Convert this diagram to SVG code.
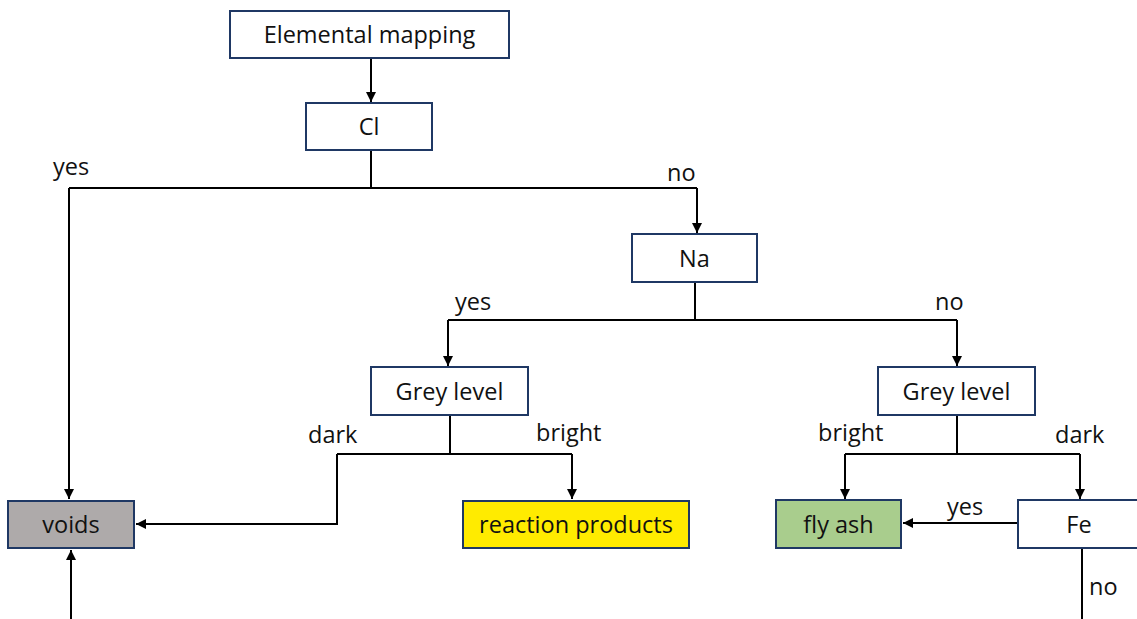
<svg xmlns="http://www.w3.org/2000/svg" width="1137" height="619" viewBox="0 0 1137 619">
  <style>
    .box { stroke: #1f3864; stroke-width: 2; fill: #ffffff; }
    .lbl { font-family: "Open Sans", "Liberation Sans", sans-serif; font-size: 23.5px; fill: #111111; }
    .mid { text-anchor: middle; }
    .wire { stroke: #000000; stroke-width: 2; fill: none; }
    .arr { marker-end: url(#head); }
  </style>
  <defs>
    <marker id="head" viewBox="0 0 10 10" refX="10" refY="5" markerWidth="5" markerHeight="5" orient="auto" markerUnits="strokeWidth">
      <path d="M0,0 L10,5 L0,10 z" fill="#000000"/>
    </marker>
  </defs>
  <rect width="1137" height="619" fill="#ffffff"/>

  <g id="connectors">
    <path class="wire arr" d="M371,58 V102"/>
    <path class="wire" d="M371,150 V188 M69,188 H697"/>
    <path class="wire arr" d="M69,188 V499"/>
    <path class="wire arr" d="M697,188 V233"/>
    <path class="wire" d="M695,282 V320 M448,320 H957"/>
    <path class="wire arr" d="M448,320 V366"/>
    <path class="wire arr" d="M957,320 V366"/>
    <path class="wire" d="M450,415 V454 M337,454 H572"/>
    <path class="wire arr" d="M337,454 V524 H136"/>
    <path class="wire arr" d="M572,454 V499"/>
    <path class="wire" d="M957,415 V454 M845,454 H1080"/>
    <path class="wire arr" d="M845,454 V499"/>
    <path class="wire arr" d="M1080,454 V499"/>
    <path class="wire arr" d="M1018,523 H903"/>
    <path class="wire" d="M1082,548 V619"/>
    <path class="wire arr" d="M71,619 V550"/>
  </g>

  <g id="edge-labels">
    <text class="lbl" x="53" y="175">yes</text>
    <text class="lbl" x="667" y="181">no</text>
    <text class="lbl" x="455" y="310">yes</text>
    <text class="lbl" x="935" y="310">no</text>
    <text class="lbl" x="308" y="443">dark</text>
    <text class="lbl" x="536" y="441">bright</text>
    <text class="lbl" x="818" y="441">bright</text>
    <text class="lbl" x="1055" y="443">dark</text>
    <text class="lbl" x="947" y="515">yes</text>
    <text class="lbl" x="1089" y="595">no</text>
  </g>

  <g id="node-elemental-mapping">
    <rect class="box" x="230" y="11" width="279" height="47"/>
    <text class="lbl mid" x="369.5" y="43">Elemental mapping</text>
  </g>
  <g id="node-cl">
    <rect class="box" x="306" y="103" width="126" height="47"/>
    <text class="lbl mid" x="369" y="135">Cl</text>
  </g>
  <g id="node-na">
    <rect class="box" x="632" y="234" width="125" height="48"/>
    <text class="lbl mid" x="694.5" y="267">Na</text>
  </g>
  <g id="node-grey-level-left">
    <rect class="box" x="371" y="367" width="157" height="48"/>
    <text class="lbl mid" x="449.5" y="400">Grey level</text>
  </g>
  <g id="node-grey-level-right">
    <rect class="box" x="878" y="367" width="157" height="48"/>
    <text class="lbl mid" x="956.5" y="400">Grey level</text>
  </g>
  <g id="node-voids">
    <rect class="box" x="8" y="501" width="126" height="47" style="fill:#aeaaaa"/>
    <text class="lbl mid" x="71" y="533">voids</text>
  </g>
  <g id="node-reaction-products">
    <rect class="box" x="463" y="501" width="226" height="47" style="fill:#ffeb00"/>
    <text class="lbl mid" x="576" y="533">reaction products</text>
  </g>
  <g id="node-fly-ash">
    <rect class="box" x="776" y="500" width="125" height="48" style="fill:#a9cd8d"/>
    <text class="lbl mid" x="838.5" y="533">fly ash</text>
  </g>
  <g id="node-fe">
    <rect class="box" x="1018" y="500" width="124" height="48"/>
    <text class="lbl mid" x="1079" y="533">Fe</text>
  </g>
</svg>
